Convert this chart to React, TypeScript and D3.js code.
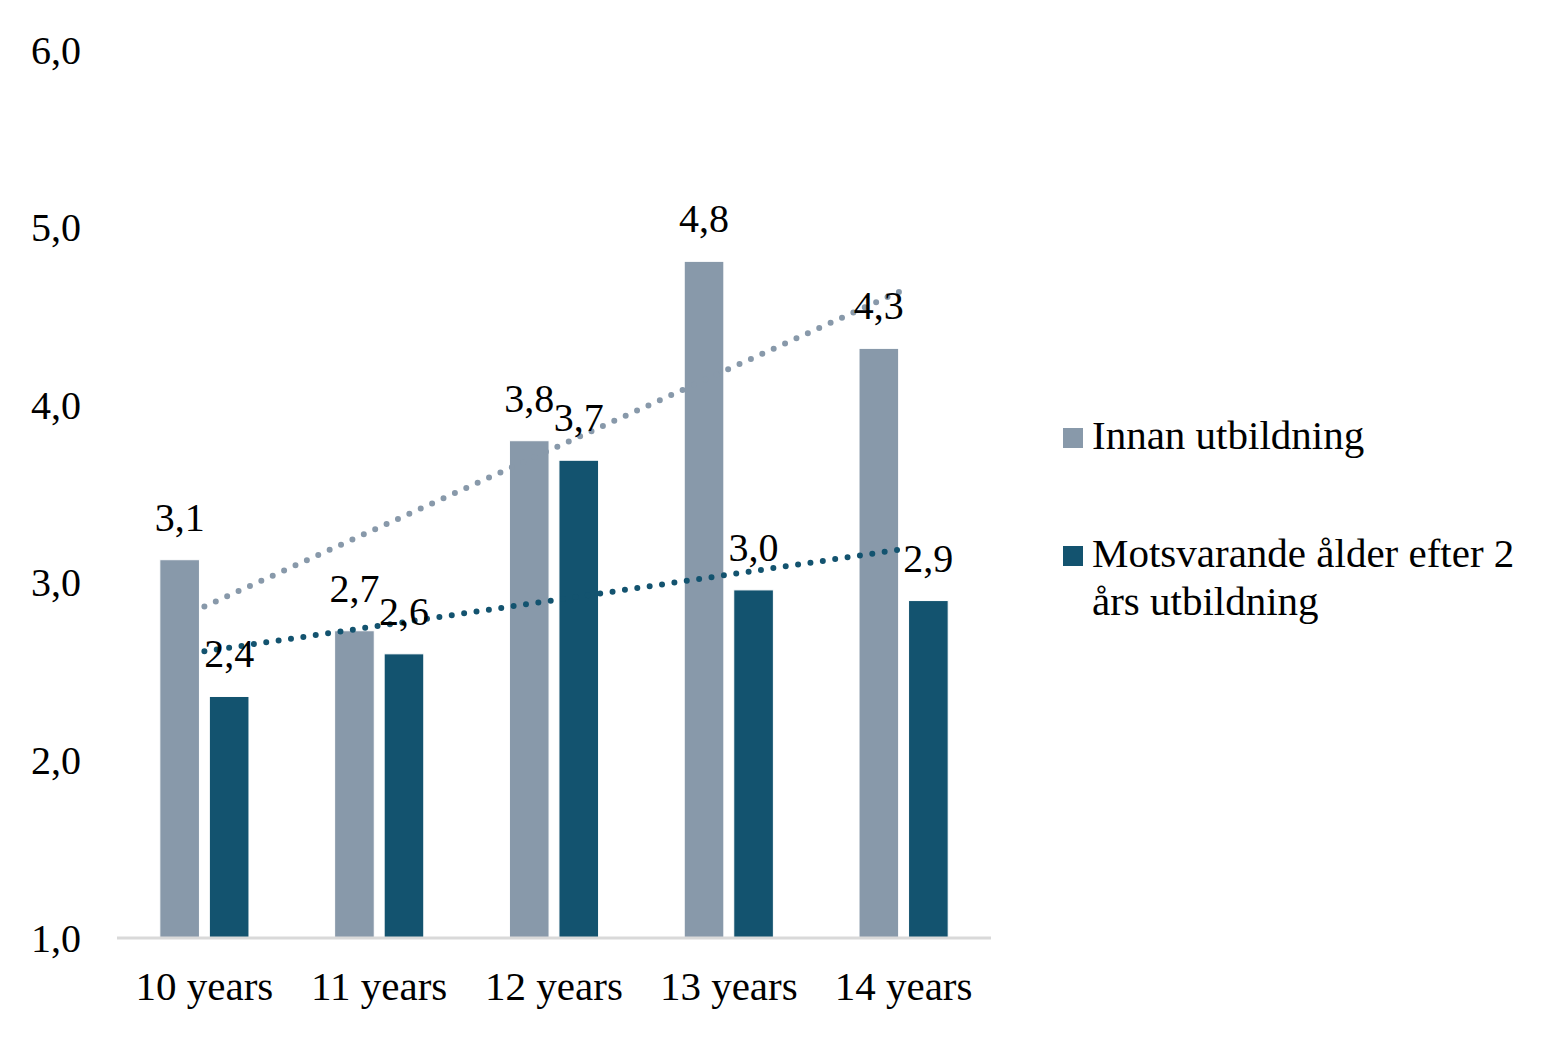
import React, { useEffect, useRef } from 'react';
import * as d3 from 'd3';

const categories = ['10 years', '11 years', '12 years', '13 years', '14 years'];
const seriesNames = ['Innan utbildning', 'Motsvarande ålder efter 2 års utbildning'];
const innanValues = [3.13, 2.73, 3.8, 4.81, 4.32];
const motsvarandeValues = [2.36, 2.6, 3.69, 2.96, 2.9];
const yTicks = [1, 2, 3, 4, 5, 6];
const colors = ['#8899aa', '#13536f'];

const W = 1563;
const H = 1039;
const FONT = '"Liberation Serif", "Times New Roman", serif';

const fmt = (v: number) => d3.format('.1f')(v).replace('.', ',');

// least squares line over category index
function trend(values: number[]) {
  const xs = values.map((_, i) => i);
  const mx = d3.mean(xs) as number;
  const my = d3.mean(values) as number;
  const num = d3.sum(xs, (x, i) => (x - mx) * (values[i] - my));
  const den = d3.sum(xs, x => (x - mx) * (x - mx));
  const b = num / den;
  const a = my - b * mx;
  return xs.map(x => a + b * x);
}

export default function App() {
  const svgRef = useRef<SVGSVGElement>(null);

  useEffect(() => {
    if (!svgRef.current) return;
    const svg = d3.select(svgRef.current);
    svg.selectAll('*').remove();

    const x0 = d3.scaleBand<string>()
      .domain(categories)
      .range([117, 991])
      .paddingInner(0.49)
      .paddingOuter(0.245);

    const x1 = d3.scaleBand<number>()
      .domain([0, 1])
      .range([0, x0.bandwidth()])
      .paddingInner(0.2);

    const y = d3.scaleLinear().domain([1, 6]).range([938, 50]);

    const series = [innanValues, motsvarandeValues];

    // y tick labels (no axis line)
    svg.append('g')
      .selectAll('text')
      .data(yTicks)
      .enter().append('text')
      .attr('x', 81)
      .attr('y', d => y(d) + 13.5)
      .attr('text-anchor', 'end')
      .style('font-family', FONT)
      .style('font-size', '40px')
      .attr('fill', '#000')
      .text(d => fmt(d));

    // bars
    series.forEach((vals, s) => {
      svg.append('g')
        .selectAll('rect')
        .data(vals)
        .enter().append('rect')
        .attr('x', (d, i) => (x0(categories[i]) as number) + (x1(s) as number))
        .attr('y', d => y(d))
        .attr('width', x1.bandwidth())
        .attr('height', d => y(1) - y(d))
        .attr('fill', colors[s])
        .attr('stroke', '#ffffff')
        .attr('stroke-width', 1);
    });

    // x axis line
    svg.append('line')
      .attr('x1', 117)
      .attr('x2', 991)
      .attr('y1', y(1))
      .attr('y2', y(1))
      .attr('stroke', '#d9d9d9')
      .attr('stroke-width', 3);

    // x labels
    svg.append('g')
      .selectAll('text')
      .data(categories)
      .enter().append('text')
      .attr('x', d => (x0(d) as number) + x0.bandwidth() / 2)
      .attr('y', 1000)
      .attr('text-anchor', 'middle')
      .style('font-family', FONT)
      .style('font-size', '41px')
      .attr('fill', '#000')
      .text(d => d);

    // dotted linear trendlines
    const line = d3.line<number>()
      .x((d, i) => (x0(categories[i]) as number) + x0.bandwidth() / 2)
      .y(d => y(d));

    series.forEach((vals, s) => {
      svg.append('path')
        .datum(trend(vals))
        .attr('d', line)
        .attr('fill', 'none')
        .attr('stroke', colors[s])
        .attr('stroke-width', 6)
        .attr('stroke-linecap', 'round')
        .attr('stroke-dasharray', '0 12.5');
    });

    // data labels
    series.forEach((vals, s) => {
      svg.append('g')
        .selectAll('text')
        .data(vals)
        .enter().append('text')
        .attr('x', (d, i) => (x0(categories[i]) as number) + (x1(s) as number) + x1.bandwidth() / 2)
        .attr('y', d => y(d) - 29)
        .attr('text-anchor', 'middle')
        .style('font-family', FONT)
        .style('font-size', '40px')
        .attr('fill', '#000')
        .text(d => fmt(d));
    });

    // legend
    const legend = svg.append('g');
    const legendRows = [
      { lines: [seriesNames[0]], top: 428 },
      { lines: ['Motsvarande ålder efter 2', 'års utbildning'], top: 546 },
    ];
    legendRows.forEach((row, s) => {
      legend.append('rect')
        .attr('x', 1063)
        .attr('y', row.top)
        .attr('width', 20)
        .attr('height', 20)
        .attr('fill', colors[s]);
      const t = legend.append('text')
        .attr('x', 1092)
        .attr('y', row.top + 21)
        .style('font-family', FONT)
        .style('font-size', '41px')
        .attr('fill', '#000');
      row.lines.forEach((ln, j) => {
        t.append('tspan')
          .attr('x', 1092)
          .attr('dy', j === 0 ? 0 : 48)
          .text(ln);
      });
    });
  }, []);

  return (
    <svg
      ref={svgRef}
      width={W}
      height={H}
      style={{ position: 'absolute', left: 0, top: 0, background: '#fff' }}
    />
  );
}
